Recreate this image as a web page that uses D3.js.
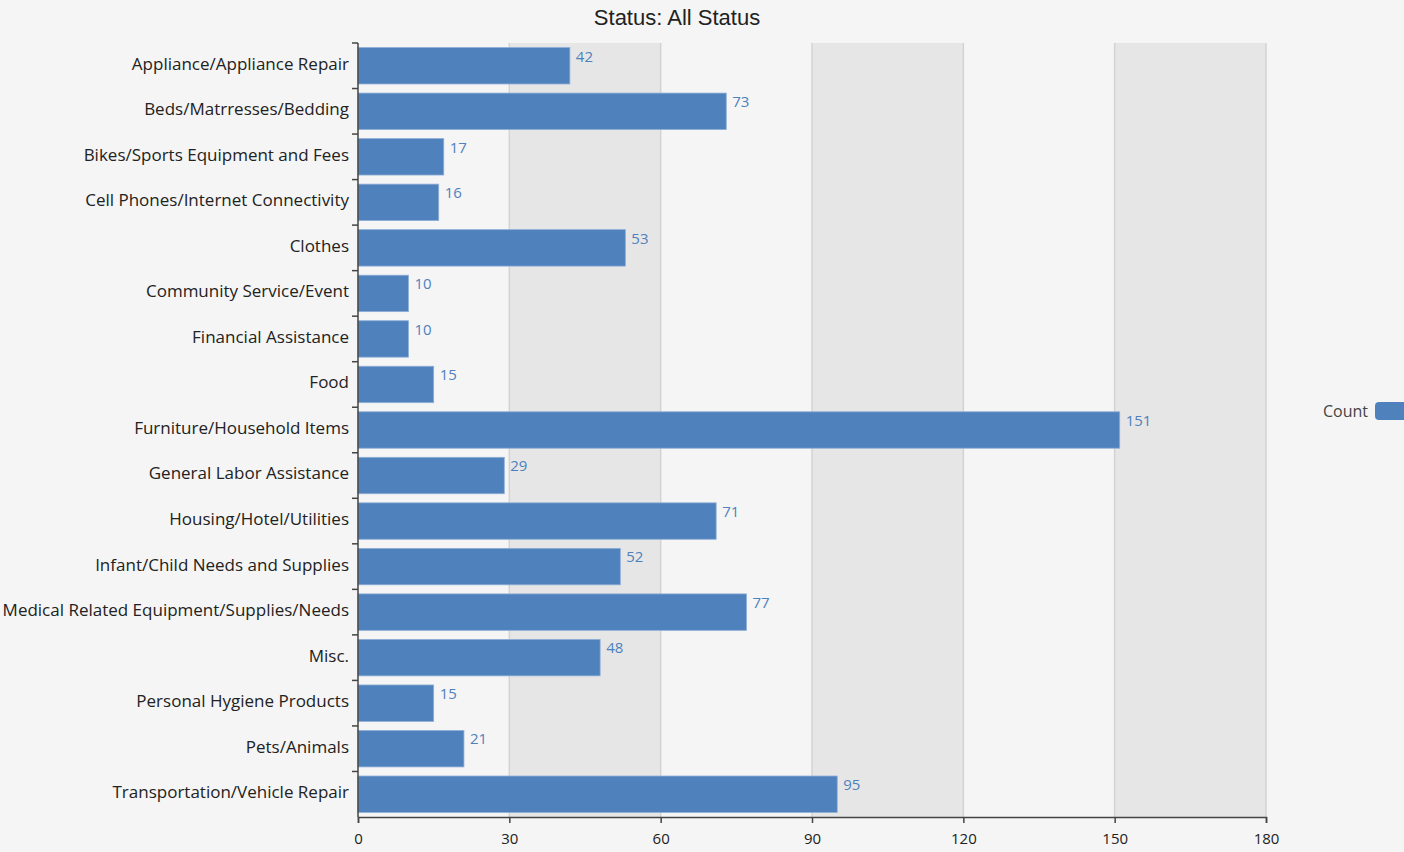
<!DOCTYPE html>
<html>
<head>
<meta charset="utf-8">
<script src="https://cdn.jsdelivr.net/npm/d3@7"></script>
<style>
  body { margin: 0; background: #f5f5f5; }
  svg { display: block; }
</style>
</head>
<body>
<div id="chart"></div>
<script>
var categories = [
    "Appliance/Appliance Repair", "Beds/Matrresses/Bedding", "Bikes/Sports Equipment and Fees",
    "Cell Phones/Internet Connectivity", "Clothes", "Community Service/Event",
    "Financial Assistance", "Food", "Furniture/Household Items", "General Labor Assistance",
    "Housing/Hotel/Utilities", "Infant/Child Needs and Supplies",
    "Medical Related Equipment/Supplies/Needs", "Misc.", "Personal Hygiene Products",
    "Pets/Animals", "Transportation/Vehicle Repair"
];
var counts = [42, 73, 17, 16, 53, 10, 10, 15, 151, 29, 71, 52, 77, 48, 15, 21, 95];
var xTicks = [0, 30, 60, 90, 120, 150, 180];
var seriesName = "Count";
var title = "Status: All Status";

var width = 1404, height = 852;
var margin = { top: 43, left: 358, right: 138, bottom: 35 };
var font = "'Open Sans', 'Noto Sans', sans-serif";

var svg = d3.select("#chart").append("svg")
    .attr("width", width)
    .attr("height", height);

svg.append("rect").attr("width", width).attr("height", height).attr("fill", "#f5f5f5");

var x = d3.scaleLinear().domain([0, 180]).range([margin.left, width - margin.right]);
var y = d3.scaleBand().domain(categories)
    .range([margin.top, height - margin.bottom])
    .paddingInner(0.2).paddingOuter(0.1);

// alternating stripes
var stripes = [];
for (var i = 0; i < xTicks.length - 1; i++) {
    if (i % 2 === 1) stripes.push([xTicks[i], xTicks[i + 1]]);
}
svg.append("g").selectAll("rect")
    .data(stripes)
    .enter().append("rect")
    .attr("x", function(d) { return x(d[0]); })
    .attr("width", function(d) { return x(d[1]) - x(d[0]); })
    .attr("y", margin.top)
    .attr("height", height - margin.bottom - margin.top)
    .attr("fill", "#e6e6e6");

// grid lines
svg.append("g").selectAll("line")
    .data(xTicks.slice(1))
    .enter().append("line")
    .attr("x1", function(d) { return x(d); })
    .attr("x2", function(d) { return x(d); })
    .attr("y1", margin.top)
    .attr("y2", height - margin.bottom)
    .attr("stroke", "#d3d3d3")
    .attr("stroke-width", 1.5);

// bars
svg.append("g").selectAll("rect")
    .data(counts)
    .enter().append("rect")
    .attr("x", x(0))
    .attr("y", function(d, i) { return y(categories[i]); })
    .attr("width", function(d) { return x(d) - x(0); })
    .attr("height", y.bandwidth())
    .attr("fill", "#4f81bd")
    .attr("stroke", "#8eaed6")
    .attr("stroke-width", 0.8);

// value labels
svg.append("g").selectAll("text")
    .data(counts)
    .enter().append("text")
    .attr("x", function(d) { return x(d) + 6; })
    .attr("y", function(d, i) { return y(categories[i]) + 14; })
    .attr("fill", "#4f81bd")
    .attr("font-family", font)
    .attr("font-size", 15)
    .text(function(d) { return d; });

// y axis
var yAxis = svg.append("g").attr("transform", "translate(" + margin.left + ",0)");
yAxis.append("line")
    .attr("x1", 0).attr("x2", 0)
    .attr("y1", margin.top).attr("y2", height - margin.bottom)
    .attr("stroke", "#444").attr("stroke-width", 1.5);
var step = y.step();
var boundaries = d3.range(categories.length + 1).map(function(i) {
    return margin.top + y.paddingOuter() * step - y.paddingInner() * step / 2 + i * step;
});
yAxis.selectAll(".tk")
    .data(boundaries.slice(0, categories.length))
    .enter().append("line")
    .attr("x1", -6).attr("x2", 0)
    .attr("y1", function(d) { return d; })
    .attr("y2", function(d) { return d; })
    .attr("stroke", "#444").attr("stroke-width", 1.5);
yAxis.selectAll("text")
    .data(categories)
    .enter().append("text")
    .attr("x", -9)
    .attr("y", function(d) { return y(d) + y.bandwidth() / 2 - 2; })
    .attr("dy", "0.35em")
    .attr("text-anchor", "end")
    .attr("fill", "#222")
    .attr("font-family", font)
    .attr("font-size", 17)
    .text(function(d) { return d; });

// x axis
var xAxis = svg.append("g")
    .attr("transform", "translate(0," + (height - margin.bottom) + ")")
    .call(d3.axisBottom(x).tickValues(xTicks).tickSizeOuter(0).tickSize(6));
xAxis.select(".domain").attr("stroke", "#444").attr("stroke-width", 1.5);
xAxis.selectAll(".tick line").attr("stroke", "#444").attr("stroke-width", 1.5);
xAxis.selectAll(".tick text")
    .attr("fill", "#222")
    .attr("font-family", font)
    .attr("font-size", 15)
    .attr("dy", "1.2em");

// title
svg.append("text")
    .attr("x", 677)
    .attr("y", 25)
    .attr("text-anchor", "middle")
    .attr("fill", "#222")
    .attr("font-family", "'Liberation Sans', Arial, sans-serif")
    .attr("font-size", 22)
    .text(title);

// legend
var legend = svg.append("g").attr("transform", "translate(1368,411)");
legend.append("text")
    .attr("x", 0).attr("y", 0)
    .attr("dy", "0.35em")
    .attr("text-anchor", "end")
    .attr("fill", "#444")
    .attr("font-family", font)
    .attr("font-size", 16)
    .text(seriesName);
legend.append("rect")
    .attr("x", 7).attr("y", -9)
    .attr("width", 40).attr("height", 18)
    .attr("rx", 4)
    .attr("fill", "#4f81bd");
</script>
</body>
</html>
